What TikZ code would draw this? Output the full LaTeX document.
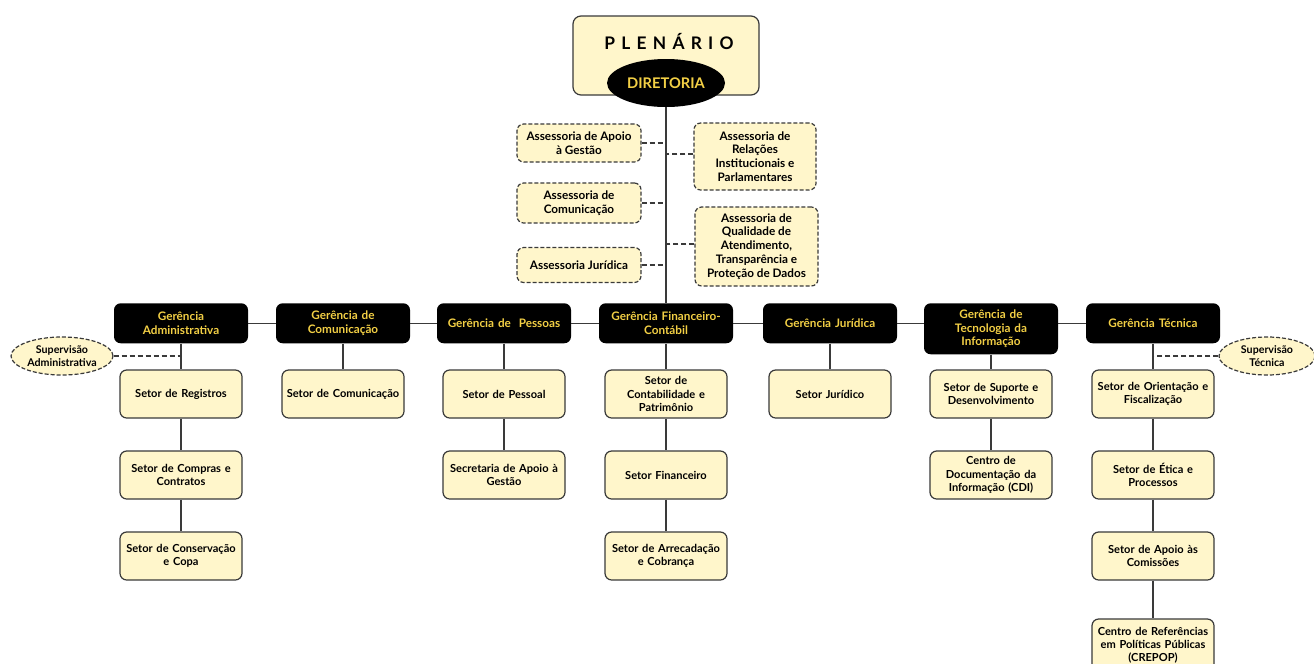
\documentclass[tikz,border=0pt]{standalone}
\usepackage{fontspec}
\setmainfont{Lato}
\usetikzlibrary{shapes.geometric}
\definecolor{boxfill}{HTML}{FFF6CB}
\definecolor{gold}{HTML}{F2CF45}
\definecolor{edge}{HTML}{3A3A3A}
\begin{document}
\begin{tikzpicture}[x=0.75pt,y=-0.75pt,
  conn/.style={draw=edge, line width=1pt},
  dconn/.style={draw=edge, line width=1pt, dash pattern=on 4pt off 2pt},
  setor/.style={draw=edge, line width=0.9pt, fill=boxfill, rounded corners=5pt,
    minimum width={122*0.75pt}, minimum height={48*0.75pt}, text width={118*0.75pt},
    align=center, inner sep=0pt, font=\fontsize{8.3}{9.9}\selectfont\bfseries},
  asses/.style={draw=edge, line width=0.9pt, fill=boxfill, rounded corners=5pt,
    dash pattern=on 3pt off 1.5pt, align=center, inner sep=0pt,
    font=\fontsize{8.8}{10.4}\selectfont\bfseries},
  ger/.style={fill=black, rounded corners=5pt, text=gold, anchor=north,
    minimum width={134*0.75pt}, minimum height={40*0.75pt}, text width={130*0.75pt},
    align=center, inner sep=0pt, font=\fontsize{8.8}{10.4}\selectfont\bfseries},
  superv/.style={ellipse, draw=edge, line width=0.9pt, fill=boxfill,
    dash pattern=on 3pt off 1.5pt, inner sep=0pt, align=center,
    minimum height={38*0.75pt}, font=\fontsize{8}{9.4}\selectfont\bfseries}
]
\useasboundingbox[fill=white] (0,0) rectangle (1314,664);

% Plenario and Diretoria
\node[draw=edge, line width=0.9pt, fill=boxfill, rounded corners=6pt,
  minimum width={186*0.75pt}, minimum height={79*0.75pt}, inner sep=0pt] (plen) at (666,55.5) {};
\node[font=\fontsize{13}{14}\selectfont\bfseries\addfontfeature{LetterSpace=36}] (plent) at (669,42) {PLENÁRIO};
\node[ellipse, fill=black, minimum width={118*0.75pt}, minimum height={48*0.75pt}, inner sep=0pt,
  text=gold, font=\fontsize{11}{12}\selectfont\bfseries] (dir) at (666,83) {DIRETORIA};

% Gerencias
\node[ger] (g1) at (181,303) {Gerência\\Administrativa};
\node[ger] (g2) at (343,303) {Gerência de\\Comunicação};
\node[ger] (g3) at (504,303) {Gerência de\ \ Pessoas};
\node[ger] (g4) at (666,303) {Gerência Financeiro-\\Contábil};
\node[ger] (g5) at (830,303) {Gerência Jurídica};
\node[ger, minimum height={51*0.75pt}] (g6) at (991,303) {Gerência de\\Tecnologia da\\Informação};
\node[ger] (g7) at (1153,303) {Gerência Técnica};

% Assessorias
\node[asses, minimum width={124*0.75pt}, minimum height={38*0.75pt}] (a1) at (579,143) {Assessoria de Apoio\\à Gestão};
\node[asses, minimum width={124*0.75pt}, minimum height={40*0.75pt}] (a2) at (579,203) {Assessoria de\\Comunicação};
\node[asses, minimum width={124*0.75pt}, minimum height={35*0.75pt}] (a3) at (579,265) {Assessoria Jurídica};
\node[asses, minimum width={122*0.75pt}, minimum height={67*0.75pt}] (a4) at (755,156.5) {Assessoria de\\Relações\\Institucionais e\\Parlamentares};
\node[asses, minimum width={123*0.75pt}, minimum height={79*0.75pt}] (a5) at (756.5,246.5) {Assessoria de\\Qualidade de\\Atendimento,\\Transparência e\\Proteção de Dados};

\draw[conn] (dir.south) -- (g4.north);
\draw[dconn] (a1.east) -- (a1.east -| dir.south);
\draw[dconn] (a2.east) -- (a2.east -| dir.south);
\draw[dconn] (a3.east) -- (a3.east -| dir.south);
\draw[dconn] (a4.west |- 0,154) -- (dir.south |- 0,154);
\draw[dconn] (a5.west |- 0,244) -- (dir.south |- 0,244);

% horizontal line between gerencias
\draw[conn] (g1.east) -- (g2.west);
\draw[conn] (g2.east) -- (g3.west);
\draw[conn] (g3.east) -- (g4.west);
\draw[conn] (g4.east) -- (g5.west);
\draw[conn] (g5.east) -- (g5.east -| g6.west);
\draw[conn] (g5.east -| g6.east) -- (g7.west);

% Setores
\node[setor] (s11) at (181,394) {Setor de Registros};
\node[setor] (s12) at (181,475) {Setor de Compras e\\Contratos};
\node[setor] (s13) at (181,556) {Setor de Conservação\\e Copa};
\node[setor] (s21) at (343,394) {Setor de Comunicação};
\node[setor] (s31) at (504,394) {Setor de Pessoal};
\node[setor] (s32) at (504,475) {Secretaria de Apoio à\\Gestão};
\node[setor] (s41) at (666,394) {Setor de\\Contabilidade e\\Patrimônio};
\node[setor] (s42) at (666,475) {Setor Financeiro};
\node[setor] (s43) at (666,556) {Setor de Arrecadação\\e Cobrança};
\node[setor] (s51) at (830,394) {Setor Jurídico};
\node[setor] (s61) at (991,394) {Setor de Suporte e\\Desenvolvimento};
\node[setor] (s62) at (991,475) {Centro de\\Documentação da\\Informação (CDI)};
\node[setor] (s71) at (1153,394) {Setor de Orientação e\\Fiscalização};
\node[setor] (s72) at (1153,475) {Setor de Ética e\\Processos};
\node[setor] (s73) at (1153,556) {Setor de Apoio às\\Comissões};
\node[setor, minimum height={52*0.75pt}] (s74) at (1153,645) {Centro de Referências\\em Políticas Públicas\\(CREPOP)};

\draw[conn] (g1.south) -- (s11.north);
\draw[conn] (s11.south) -- (s12.north);
\draw[conn] (s12.south) -- (s13.north);
\draw[conn] (g2.south) -- (s21.north);
\draw[conn] (g3.south) -- (s31.north);
\draw[conn] (s31.south) -- (s32.north);
\draw[conn] (g4.south) -- (s41.north);
\draw[conn] (s41.south) -- (s42.north);
\draw[conn] (s42.south) -- (s43.north);
\draw[conn] (g5.south) -- (s51.north);
\draw[conn] (g6.south) -- (s61.north);
\draw[conn] (s61.south) -- (s62.north);
\draw[conn] (g7.south) -- (s71.north);
\draw[conn] (s71.south) -- (s72.north);
\draw[conn] (s72.south) -- (s73.north);
\draw[conn] (s73.south) -- (s74.north);

% Supervisoes
\node[superv, minimum width={102*0.75pt}] (supA) at (62,356) {Supervisão\\Administrativa};
\node[superv, minimum width={96*0.75pt}] (supT) at (1267,356) {Supervisão\\Técnica};
\draw[dconn] (supA.east) -- (supA.east -| g1.south);
\draw[dconn] (supT.west) -- (supT.west -| g7.south);
\end{tikzpicture}
\end{document}
